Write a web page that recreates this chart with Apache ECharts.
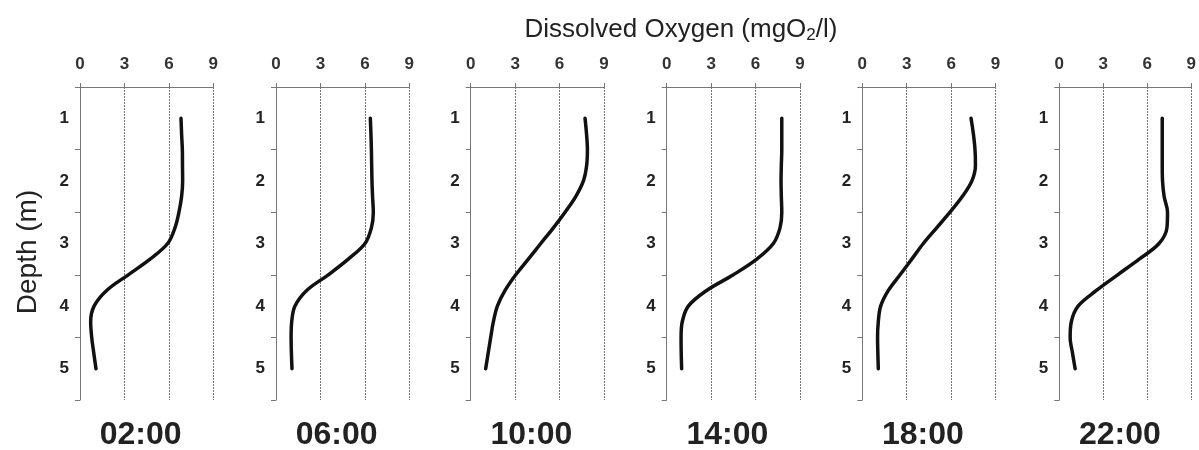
<!DOCTYPE html>
<html>
<head>
<meta charset="utf-8">
<script src="https://cdn.jsdelivr.net/npm/echarts@6/dist/echarts.min.js"></script>
<style>
  html, body { margin: 0; padding: 0; background: #fff; }
  #chart { width: 1199px; height: 450px; }
</style>
</head>
<body>
<div id="chart"></div>
<script>
(function () {
  const times = ['02:00', '06:00', '10:00', '14:00', '18:00', '22:00'];
  const depth = [1, 1.25, 1.5, 1.75, 2, 2.25, 2.5, 2.75, 3, 3.25, 3.5, 3.75, 4, 4.25, 4.5, 4.75, 5];

  // dissolved oxygen (mg/l) read at each depth
  const do0200 = [6.82, 6.86, 6.91, 6.92, 6.93, 6.86, 6.68, 6.41, 5.92, 4.73, 3.26, 1.8, 0.95, 0.72, 0.79, 0.93, 1.08];
  const do0600 = [6.37, 6.41, 6.44, 6.46, 6.48, 6.52, 6.57, 6.44, 6.01, 4.88, 3.53, 2.07, 1.28, 1.06, 1.02, 1.04, 1.08];
  const do1000 = [7.72, 7.82, 7.88, 7.83, 7.61, 7.09, 6.37, 5.58, 4.73, 3.89, 3.04, 2.32, 1.8, 1.53, 1.35, 1.18, 1.01];
  const do1400 = [7.77, 7.77, 7.77, 7.74, 7.72, 7.74, 7.77, 7.65, 7.2, 6.08, 4.5, 2.7, 1.46, 1.05, 0.97, 0.98, 1.01];
  const do1800 = [7.34, 7.5, 7.61, 7.64, 7.4, 6.75, 5.92, 5.02, 4.12, 3.34, 2.55, 1.76, 1.24, 1.08, 1.03, 1.05, 1.08];
  const do2200 = [7.02, 7.02, 7.02, 7.02, 7.04, 7.15, 7.38, 7.34, 6.8, 5.45, 3.98, 2.53, 1.28, 0.82, 0.74, 0.9, 1.08];
  const profiles = [do0200, do0600, do1000, do1400, do1800, do2200];

  const oxygenTicks = [0, 3, 6, 9];
  const depthLabels = [1, 2, 3, 4, 5];
  const depthTicks = [0.5, 1.5, 2.5, 3.5, 4.5, 5.5];

  const gridLefts = [80, 276, 470.7, 666.7, 862.3, 1059.3];
  const gridWidth = 133.3;
  const gridTop = 87;
  const gridHeight = 313;

  const font = 'Liberation Sans';
  const chart = echarts.init(document.getElementById('chart'));

  const grids = [];
  const xAxes = [];
  const yAxes = [];
  const series = [];
  const graphics = [];

  profiles.forEach((vals, i) => {
    grids.push({ left: gridLefts[i], top: gridTop, width: gridWidth, height: gridHeight });
    xAxes.push({
      gridIndex: i,
      type: 'value',
      position: 'top',
      min: oxygenTicks[0],
      max: oxygenTicks[oxygenTicks.length - 1],
      interval: 3,
      axisLine: { show: true, lineStyle: { color: '#777', width: 1 } },
      axisTick: { show: true, length: 4, lineStyle: { color: '#777' } },
      axisLabel: {
        margin: 14,
        color: '#333',
        textStyle: { fontSize: 17, fontWeight: 'bold', fontFamily: font },
        fontSize: 17,
        fontWeight: 'bold',
        fontFamily: font,
      },
      splitLine: { show: true, lineStyle: { color: '#777', type: [2, 1], width: 1 } },
    });
    yAxes.push({
      gridIndex: i,
      type: 'value',
      inverse: true,
      min: 0.5,
      max: 5.5,
      interval: 0.5,
      axisLine: { show: true, lineStyle: { color: '#777', width: 1 } },
      axisTick: { show: true, length: 5, customValues: depthTicks, lineStyle: { color: '#777' } },
      axisLabel: {
        customValues: depthLabels,
        margin: 11,
        fontSize: 17,
        fontWeight: 'bold',
        color: '#222',
        fontFamily: font,
      },
      splitLine: { show: false },
    });
    series.push({
      type: 'line',
      xAxisIndex: i,
      yAxisIndex: i,
      data: vals.map((v, k) => [v, depth[k]]),
      smooth: 0.35,
      symbol: 'none',
      lineStyle: { color: '#111', width: 3.5, cap: 'round', join: 'round' },
    });
    graphics.push({
      type: 'text',
      x: gridLefts[i] + gridWidth / 2 - 6,
      y: 435,
      style: {
        text: times[i],
        fontSize: 32,
        fontWeight: 'bold',
        fontFamily: font,
        fill: '#222',
        align: 'center',
        verticalAlign: 'middle',
      },
    });
  });

  graphics.push({
    type: 'text',
    x: 28,
    y: 252,
    rotation: Math.PI / 2,
    style: {
      text: 'Depth (m)',
      fontSize: 28,
      fontFamily: font,
      fill: '#222',
      align: 'center',
      verticalAlign: 'middle',
    },
  });

  chart.setOption({
    animation: false,
    textStyle: { fontFamily: font },
    title: {
      text: 'Dissolved Oxygen (mgO{sub|2}/l)',
      left: 676,
      top: 11,
      textAlign: 'center',
      textStyle: {
        fontSize: 26,
        fontWeight: 'normal',
        fontFamily: font,
        color: '#222',
        rich: {
          sub: { fontSize: 17, fontFamily: font, color: '#222', verticalAlign: 'bottom', padding: [11, 0, 0, 0] },
        },
      },
    },
    grid: grids,
    xAxis: xAxes,
    yAxis: yAxes,
    series,
    graphic: graphics,
  });
})();
</script>
</body>
</html>
